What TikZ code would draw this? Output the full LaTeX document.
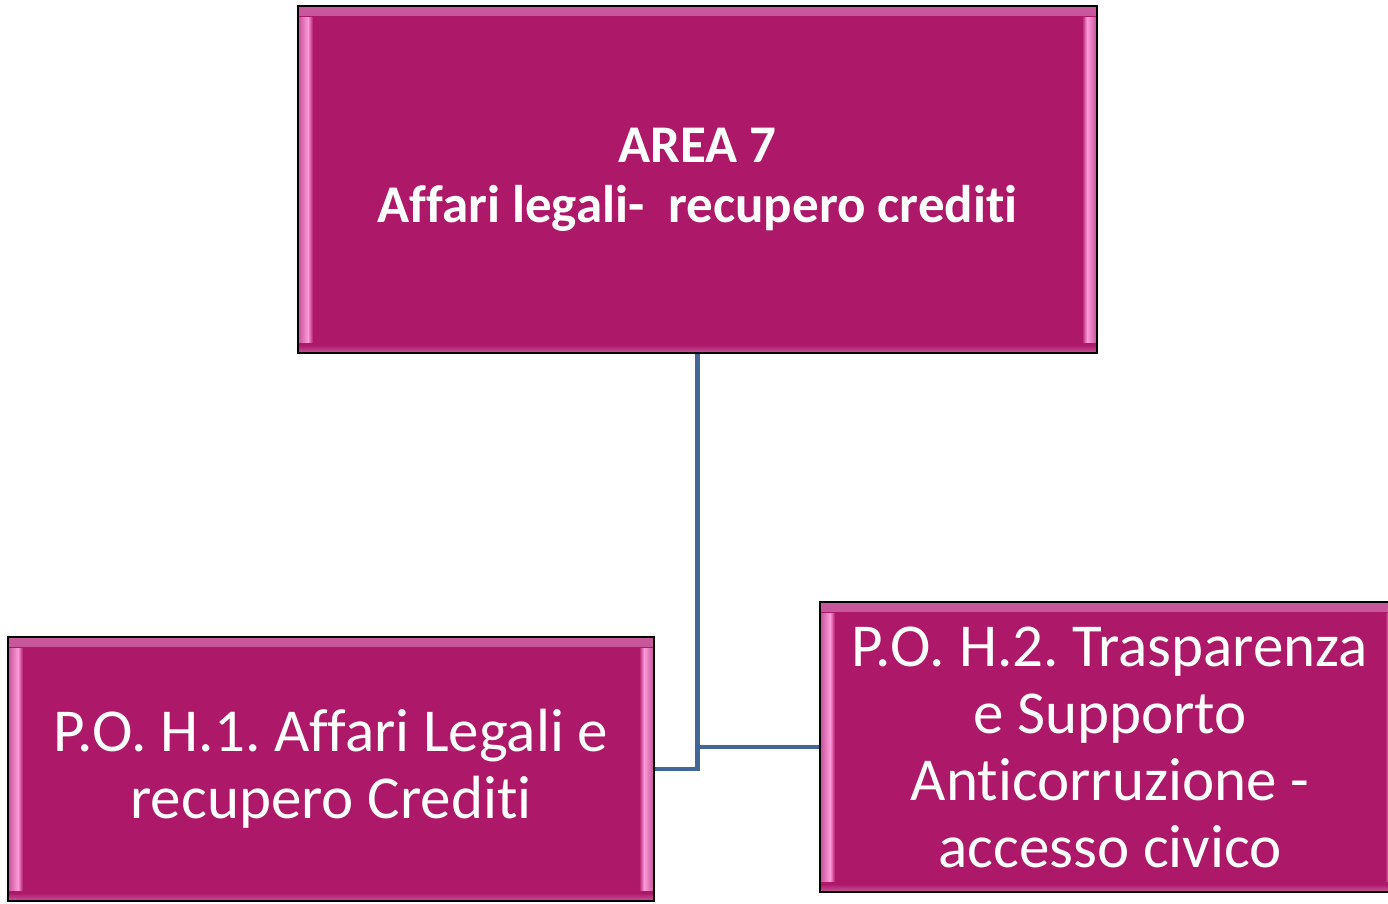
\documentclass[tikz,border=0pt]{standalone}
\usepackage{fontspec}
\setmainfont[Ligatures=NoCommon]{Carlito}
\usepackage{tikz}
\definecolor{areafill}{HTML}{AE1869}
\definecolor{bevlight}{HTML}{FF9ADA}
\definecolor{bevmid}{HTML}{C8589C}
\definecolor{linkblue}{HTML}{41679A}

\begin{document}
\frenchspacing
\begin{tikzpicture}[x=1pt,y=-1pt,
    unit/.style={draw=black,line width=2pt,fill=areafill,text=white,align=center,inner sep=0pt,
      path picture={
        \shade[top color=bevmid,bottom color=areafill] (path picture bounding box.north west) rectangle ([yshift=-9pt]path picture bounding box.north east);
        \shade[top color=areafill,bottom color=bevmid] ([yshift=8pt]path picture bounding box.south west) rectangle (path picture bounding box.south east);
        \shade[left color=bevmid,right color=bevlight] ([xshift=1pt,yshift=-11pt]path picture bounding box.north west) rectangle ([xshift=10pt,yshift=11pt]path picture bounding box.south west);
        \shade[left color=bevlight,right color=areafill] ([xshift=10pt,yshift=-11pt]path picture bounding box.north west) rectangle ([xshift=15pt,yshift=11pt]path picture bounding box.south west);
        \shade[right color=bevmid,left color=bevlight] ([xshift=-10pt,yshift=-11pt]path picture bounding box.north east) rectangle ([xshift=-1pt,yshift=11pt]path picture bounding box.south east);
        \shade[right color=bevlight,left color=areafill] ([xshift=-15pt,yshift=-11pt]path picture bounding box.north east) rectangle ([xshift=-10pt,yshift=11pt]path picture bounding box.south east);
      }},
    link/.style={draw=linkblue,line width=4.5pt}] %
    \useasboundingbox (0,0) rectangle (1388,903);
    \node[unit,minimum width=799pt,minimum height=347pt,font=\fontsize{53}{60}\selectfont\bfseries] (area) at (697.5,179.5) {AREA 7\\ Affari legali-\ \ recupero crediti} ; %
    \node[unit,minimum width=646pt,minimum height=264pt,font=\fontsize{61}{67}\selectfont] (poh1) at (331,769) {P.O. H.1. Affari Legali e\\ recupero Crediti} ; %
    \node[unit,minimum width=580pt,minimum height=290pt,font=\fontsize{61}{67}\selectfont] (poh2) at (1110,747) {P.O. H.2. Trasparenza\\ e Supporto\\ Anticorruzione -\\ accesso civico} ; %
    \draw[link] (area.south) |- (poh1.east) ;
    \draw[link] (area.south) |- (poh2.west) ;
  \end{tikzpicture}
\end{document}
